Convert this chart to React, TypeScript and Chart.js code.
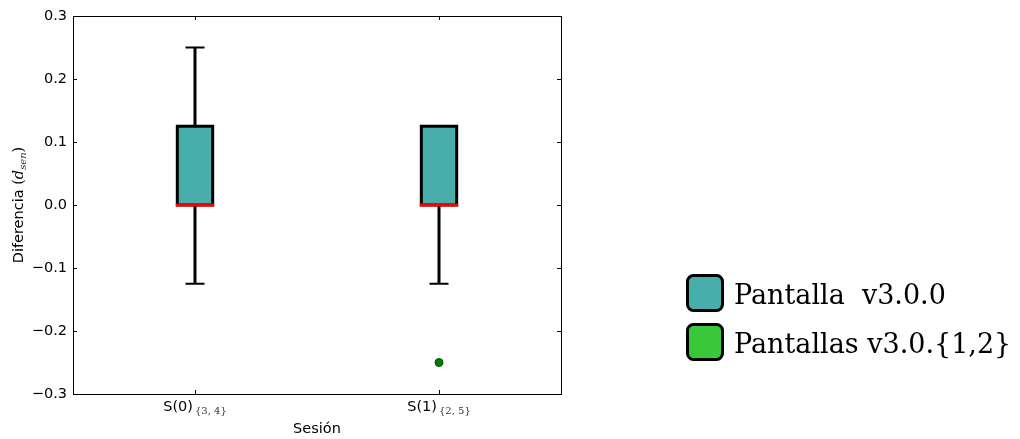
import React, { useEffect, useRef } from "react";
import { Chart, registerables } from "chart.js";

Chart.register(...registerables);

// Sessions on the x axis, with their subscript sets
const sessions = ["S(0)", "S(1)"];
const sessionSubs = ["{3, 4}", "{2, 5}"];
const sessionPos = [1, 2];

// Box statistics per session
const q1 = [0, 0];
const q3 = [0.125, 0.125];
const medians = [0, 0];
const whiskerLow = [-0.125, -0.125];
const whiskerHigh = [0.25, 0.125];
const outliers: number[][] = [[], [-0.25]];

// Y axis range
const yMin = -0.3;
const yMax = 0.3;
const yStep = 0.1;

// Legend entries
const legendLabels = ["Pantalla  v3.0.0", "Pantallas v3.0.{1,2}"];
const legendColors = ["#48aeac", "#3ac83a"];

const BOX_WIDTH = 0.145;
const CAP_HALF = 0.039;

const SANS = "'DejaVu Sans', sans-serif";
const SERIF = "'DejaVu Serif', serif";

function fmtTick(v: number): string {
  const r = Math.abs(v) < 1e-9 ? 0 : v;
  const s = Math.abs(r).toFixed(1);
  return r < 0 ? "\u2212" + s : s;
}

const decorPlugin = {
  id: "decor",
  afterDraw(chart: any) {
    const { ctx, chartArea } = chart;
    const { left, right, top, bottom } = chartArea;
    const xs = chart.scales.x;
    const ys = chart.scales.y;
    ctx.save();

    // Frame
    ctx.strokeStyle = "#000";
    ctx.lineWidth = 1;
    ctx.strokeRect(Math.round(left) + 0.5, Math.round(top) + 0.5, Math.round(right - left), Math.round(bottom - top));

    // Inward tick marks on all four sides
    ctx.beginPath();
    ys.ticks.forEach((t: any) => {
      const y = Math.round(ys.getPixelForValue(t.value)) + 0.5;
      ctx.moveTo(left, y);
      ctx.lineTo(left + 4, y);
      ctx.moveTo(right - 4, y);
      ctx.lineTo(right, y);
    });
    sessionPos.forEach((p) => {
      const x = Math.round(xs.getPixelForValue(p)) + 0.5;
      ctx.moveTo(x, bottom);
      ctx.lineTo(x, bottom - 4);
      ctx.moveTo(x, top);
      ctx.lineTo(x, top + 4);
    });
    ctx.stroke();

    // X tick labels with subscripts
    ctx.fillStyle = "#000";
    ctx.textBaseline = "alphabetic";
    ctx.textAlign = "left";
    sessionPos.forEach((p, i) => {
      const x = xs.getPixelForValue(p);
      ctx.font = `14.5px ${SANS}`;
      const w1 = ctx.measureText(sessions[i]).width;
      ctx.font = `10px ${SERIF}`;
      const w2 = ctx.measureText(sessionSubs[i]).width;
      const x0 = x - (w1 + w2 + 2) / 2;
      ctx.font = `14.5px ${SANS}`;
      ctx.fillText(sessions[i], x0, bottom + 17);
      ctx.font = `10px ${SERIF}`;
      ctx.fillStyle = "#333";
      ctx.fillText(sessionSubs[i], x0 + w1 + 2, bottom + 20);
      ctx.fillStyle = "#000";
    });

    // X axis title
    ctx.font = `14.5px ${SANS}`;
    ctx.textAlign = "center";
    ctx.fillText("Sesión", (left + right) / 2, bottom + 39);

    // Y axis title: "Diferencia (d_sen)"
    ctx.translate(23, (top + bottom) / 2);
    ctx.rotate(-Math.PI / 2);
    ctx.textAlign = "left";
    const parts = [
      { t: "Diferencia ", f: `14.5px ${SANS}`, dy: 0 },
      { t: "(", f: `14.5px ${SERIF}`, dy: 0 },
      { t: "d", f: `italic 14.5px ${SERIF}`, dy: 0 },
      { t: "sen", f: `italic 10px ${SERIF}`, dy: 3 },
      { t: ")", f: `14.5px ${SERIF}`, dy: 0 },
    ];
    let total = 0;
    parts.forEach((p) => {
      ctx.font = p.f;
      total += ctx.measureText(p.t).width;
    });
    let cx = -total / 2;
    parts.forEach((p) => {
      ctx.font = p.f;
      ctx.fillStyle = p.t === "sen" ? "#333" : "#000";
      ctx.fillText(p.t, cx, p.dy);
      cx += ctx.measureText(p.t).width;
    });
    ctx.setTransform(1, 0, 0, 1, 0, 0);

    // Legend
    const lx = 686;
    const ly = [274, 323];
    legendLabels.forEach((label, i) => {
      const y = ly[i];
      ctx.beginPath();
      ctx.roundRect(lx + 1.5, y + 1.5, 35, 35, 6);
      ctx.fillStyle = legendColors[i];
      ctx.fill();
      ctx.lineWidth = 3;
      ctx.strokeStyle = "#000";
      ctx.stroke();
      ctx.fillStyle = "#000";
      ctx.font = `27px ${SERIF}`;
      ctx.textAlign = "left";
      ctx.fillText(label, 734, y + 30);
    });

    ctx.restore();
  },
};

export default function App() {
  const canvasRef = useRef<HTMLCanvasElement>(null);

  useEffect(() => {
    if (!canvasRef.current) return;
    const half = BOX_WIDTH / 2;

    // Boxes: closed outline between the quartiles, filled inside
    const boxSets = sessionPos.map((p, i) => ({
      type: "line",
      data: [
        { x: p - half, y: q1[i] },
        { x: p - half, y: q3[i] },
        { x: p + half, y: q3[i] },
        { x: p + half, y: q1[i] },
        { x: p - half, y: q1[i] },
      ],
      borderColor: "#000",
      backgroundColor: legendColors[0],
      fill: "shape",
      borderWidth: 3,
      borderJoinStyle: "miter",
      borderCapStyle: "square",
      pointRadius: 0,
      order: 2,
    }));

    // Whiskers and caps
    const whiskerSets: any[] = [];
    sessionPos.forEach((p, i) => {
      const ends: [number, number][] = [];
      if (whiskerLow[i] < q1[i]) ends.push([q1[i], whiskerLow[i]]);
      if (whiskerHigh[i] > q3[i]) ends.push([q3[i], whiskerHigh[i]]);
      ends.forEach(([a, b]) => {
        whiskerSets.push({
          type: "line",
          data: [
            { x: p, y: a },
            { x: p, y: b },
          ],
          borderColor: "#000",
          borderWidth: 3,
          pointRadius: 0,
          fill: false,
          order: 3,
        });
        whiskerSets.push({
          type: "line",
          data: [
            { x: p - CAP_HALF, y: b },
            { x: p + CAP_HALF, y: b },
          ],
          borderColor: "#000",
          borderWidth: 2,
          pointRadius: 0,
          fill: false,
          order: 3,
        });
      });
    });

    const medianSets = sessionPos.map((p, i) => ({
      type: "line",
      data: [
        { x: p - half, y: medians[i] },
        { x: p + half, y: medians[i] },
      ],
      borderColor: "#ff0000",
      borderWidth: 3,
      borderCapStyle: "square",
      pointRadius: 0,
      fill: false,
      order: 1,
    }));

    const outlierPoints: { x: number; y: number }[] = [];
    sessionPos.forEach((p, i) => outliers[i].forEach((v) => outlierPoints.push({ x: p, y: v })));

    const chart = new Chart(canvasRef.current, {
      type: "line",
      data: {
        datasets: [
          ...whiskerSets,
          ...boxSets,
          ...medianSets,
          {
            type: "scatter",
            data: outlierPoints,
            backgroundColor: "#007f00",
            borderColor: "#004d00",
            borderWidth: 1,
            pointRadius: 4,
            order: 0,
          },
        ] as any,
      },
      options: {
        animation: false,
        responsive: false,
        layout: { padding: { left: 0, top: 16, right: 459, bottom: 0 } },
        plugins: { legend: { display: false }, tooltip: { enabled: false } },
        scales: {
          x: {
            type: "linear",
            min: 0.5,
            max: 2.5,
            offset: false,
            grid: { display: false },
            border: { display: false },
            ticks: { display: false },
            afterFit: (scale: any) => {
              scale.height = 45;
            },
          },
          y: {
            type: "linear",
            min: yMin,
            max: yMax,
            grid: { display: false, drawTicks: false },
            border: { display: false },
            ticks: {
              stepSize: yStep,
              padding: 6,
              color: "#000",
              font: { family: "DejaVu Sans", size: 14.5 },
              callback: (v: any) => fmtTick(Number(v)),
            },
            afterFit: (scale: any) => {
              scale.width = 73;
            },
          },
        },
      },
      plugins: [decorPlugin],
    });

    return () => chart.destroy();
  }, []);

  return (
    <div style={{ position: "fixed", left: 0, top: 0, width: 1020, height: 439, background: "#fff" }}>
      <canvas ref={canvasRef} width={1020} height={439} style={{ display: "block" }} />
    </div>
  );
}
